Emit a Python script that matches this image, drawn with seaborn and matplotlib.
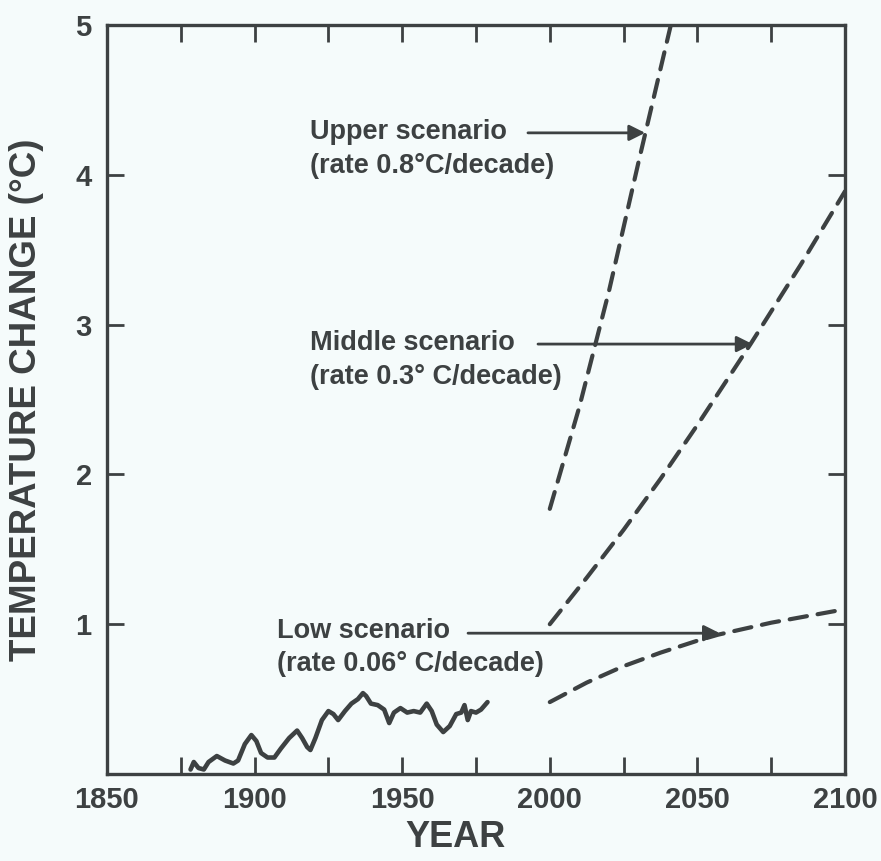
import numpy as np
import pandas as pd
import matplotlib
matplotlib.use("Agg")
import matplotlib.pyplot as plt
import seaborn as sns

# ─── DATA ───────────────────────────────────────────────
hist_years = [1878.3, 1879.4, 1881.0, 1882.8, 1884.4, 1887.2, 1890.0, 1892.8, 1894.4,
              1896.7, 1898.9, 1900.6, 1902.2, 1904.4, 1906.7, 1908.9, 1911.7, 1914.4,
              1916.1, 1917.8, 1918.9, 1920.6, 1922.8, 1925.0, 1926.7, 1928.3, 1930.6,
              1932.8, 1935.0, 1936.7, 1937.8, 1939.4, 1941.7, 1943.9, 1945.6, 1947.2,
              1949.4, 1951.7, 1953.9, 1956.1, 1958.3, 1960.0, 1961.7, 1963.9, 1966.1,
              1968.3, 1970.0, 1971.1, 1972.2, 1973.3, 1975.0, 1976.7, 1978.9]
hist_temp = [0.03, 0.08, 0.04, 0.03, 0.08, 0.12, 0.09, 0.07, 0.09,
             0.20, 0.26, 0.22, 0.14, 0.11, 0.11, 0.17, 0.24, 0.29,
             0.24, 0.18, 0.16, 0.24, 0.36, 0.42, 0.40, 0.36, 0.42,
             0.47, 0.50, 0.54, 0.52, 0.47, 0.46, 0.43, 0.34, 0.41,
             0.44, 0.41, 0.42, 0.41, 0.47, 0.42, 0.33, 0.28, 0.32,
             0.40, 0.41, 0.46, 0.36, 0.42, 0.41, 0.43, 0.48]

upper_years = [2000, 2010, 2020, 2030, 2041]
upper_temp = [1.77, 2.45, 3.22, 4.08, 5.0]

middle_years = [2000, 2012.5, 2025, 2037.5, 2050, 2068, 2085, 2100]
middle_temp = [1.0, 1.31, 1.63, 1.97, 2.33, 2.87, 3.40, 3.89]

low_years = [2000, 2012.5, 2025, 2037.5, 2050, 2057, 2075, 2100]
low_temp = [0.48, 0.61, 0.72, 0.81, 0.89, 0.93, 1.01, 1.10]

scenario_names = ["Upper scenario", "Middle scenario", "Low scenario"]
scenario_rates = ["(rate 0.8°C/decade)", "(rate 0.3° C/decade)", "(rate 0.06° C/decade)"]
x_ticks = [1850, 1900, 1950, 2000, 2050, 2100]
y_ticks = [1, 2, 3, 4, 5]

# ─── STYLE ──────────────────────────────────────────────
INK = "#3d4142"
BG = "#f5fbfb"
sns.set_style("ticks")
plt.rcParams["font.family"] = ["Liberation Sans", "DejaVu Sans"]
plt.rcParams["text.color"] = INK
plt.rcParams["axes.labelcolor"] = INK
plt.rcParams["xtick.color"] = INK
plt.rcParams["ytick.color"] = INK

fig = plt.figure(figsize=(8.81, 8.61), dpi=100, facecolor=BG)
ax = fig.add_axes([107/881, 1 - 774/861, 738/881, 749/861], facecolor=BG)

# historical record
sns.lineplot(x=hist_years, y=hist_temp, ax=ax, color=INK, lw=3.3,
             sort=False, estimator=None, solid_joinstyle="round", solid_capstyle="round")

# scenarios
dash = (0, (4.2, 2.6))
for yrs, vals in [(upper_years, upper_temp), (middle_years, middle_temp), (low_years, low_temp)]:
    sns.lineplot(x=yrs, y=vals, ax=ax, color=INK, lw=3.0, linestyle=dash,
                 sort=False, estimator=None, dash_capstyle="round", dash_joinstyle="round")

# labels + arrows
text_pos = [(1918.8, 4.24), (1918.8, 2.83), (1907.6, 0.91)]
line_gap = 0.225
arrows = [((1992.6, 4.28), (2032.3, 4.28)),
          ((1996.0, 2.87), (2068.7, 2.87)),
          ((1972.3, 0.94), (2057.6, 0.94))]
for name, rate, (tx, ty), (tail, tip) in zip(scenario_names, scenario_rates, text_pos, arrows):
    ax.text(tx, ty, name, fontsize=19.5, fontweight="bold", ha="left", va="baseline", color=INK)
    ax.text(tx, ty - line_gap, rate, fontsize=19.5, fontweight="bold", ha="left",
            va="baseline", color=INK)
    ax.annotate("", xy=tip, xytext=tail,
                arrowprops=dict(arrowstyle="-|>", color=INK, lw=2.0,
                                mutation_scale=24, shrinkA=0, shrinkB=0))

# ─── AXES ───────────────────────────────────────────────
ax.set_xlim(1850, 2100)
ax.set_ylim(0, 5)
ax.set_xticks(x_ticks)
ax.set_xticks([1875, 1925, 1975, 2025, 2075], minor=True)
ax.set_yticks(y_ticks)
ax.set_xticklabels([str(v) for v in x_ticks])
ax.set_yticklabels([str(v) for v in y_ticks])
ax.tick_params(which="both", direction="in", top=True, right=True,
               length=12, width=2.0, labelsize=21)
ax.tick_params(axis="x", pad=9)
ax.tick_params(axis="y", pad=11)
for lab in ax.get_xticklabels() + ax.get_yticklabels():
    lab.set_fontweight("bold")
for s in ax.spines.values():
    s.set_linewidth(2.4)
    s.set_color(INK)
    s.set_visible(True)

ax.set_xlabel("YEAR", fontsize=26, fontweight="bold")
ax.set_ylabel("TEMPERATURE CHANGE (°C)", fontsize=26.5, fontweight="bold")
ax.xaxis.set_label_coords(0.472, -0.062)
ax.yaxis.set_label_coords(-0.086, 0.5)

fig.savefig("out.png", dpi=100, facecolor=BG)
